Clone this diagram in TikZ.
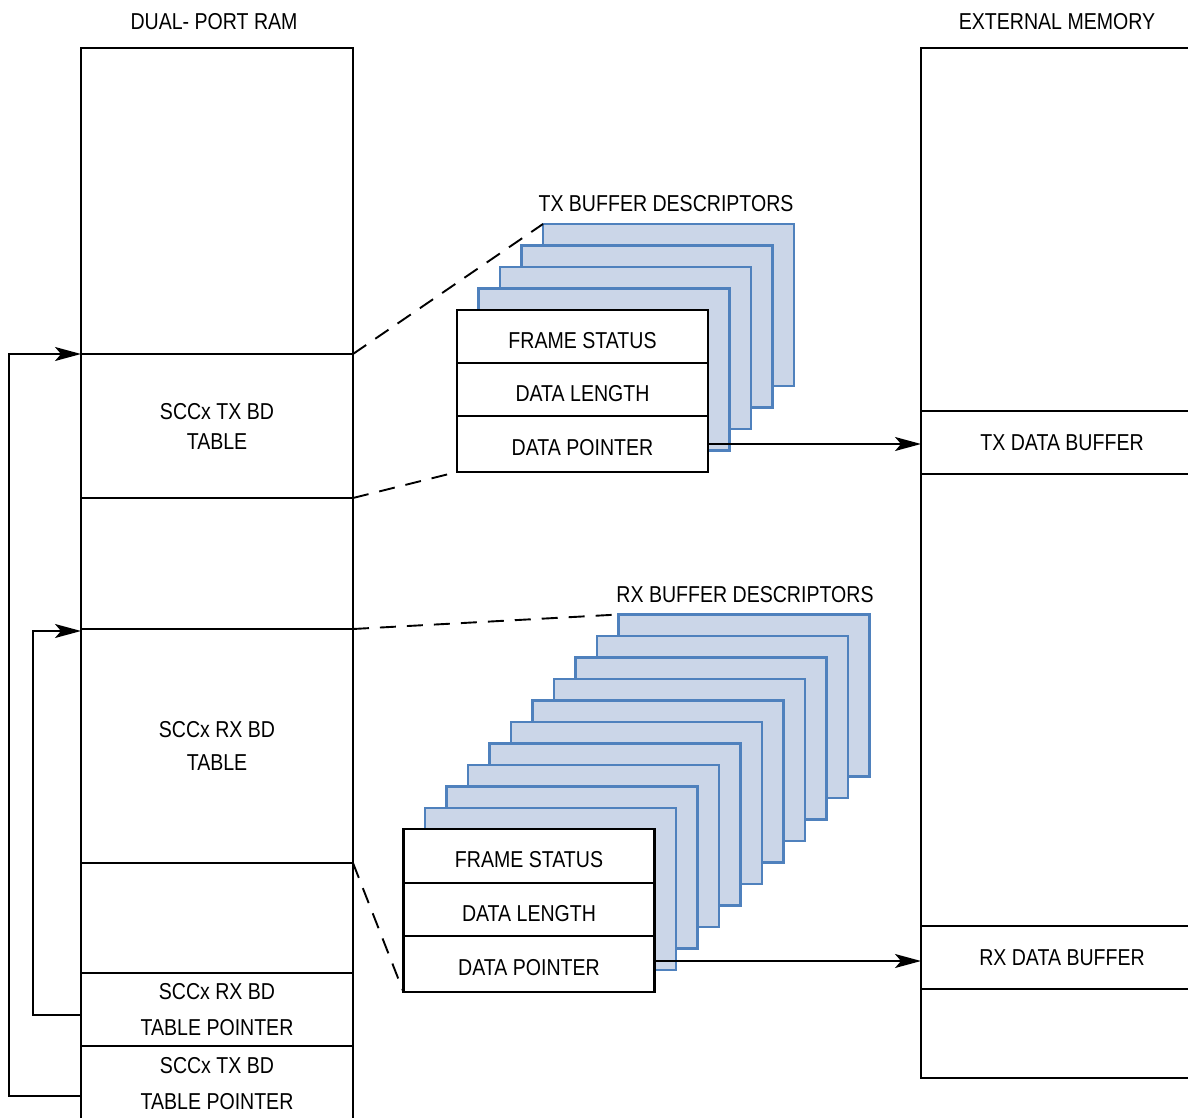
\documentclass[tikz,border=0pt]{standalone}
\usepackage{fontspec}
\setmainfont{Liberation Sans}[FakeStretch=0.85]
\usetikzlibrary{arrows.meta}
\definecolor{bdfill}{RGB}{203,214,232}
\definecolor{bdline}{RGB}{79,129,189}
\begin{document}
\begin{tikzpicture}[x=1pt, y=-1pt, font=\fontsize{23}{28}\selectfont,
		>={Stealth[length=26pt, width=14pt, inset=6pt]},
		cell/.style={draw, line width=2.9pt, minimum width=272pt, inner sep=0pt, outer sep=0pt, align=center},
		emcell/.style={cell, minimum width=282pt},
		bdbox/.style={draw=bdline, fill=bdfill, line width=2.2pt, minimum width=251pt, minimum height=162pt, inner sep=0pt, outer sep=0pt},
		bdrow/.style={draw, fill=white, line width=2.9pt, minimum width=251pt, inner sep=0pt, outer sep=0pt, text height=23pt, text depth=0pt},
		conn/.style={line width=1.6pt},
		guide/.style={line width=1.9pt, dash pattern=on 16pt off 11pt}]
	\useasboundingbox (0,0) rectangle (1188,1118);
	\clip (0,0) rectangle (1188,1118);
	% dual-port RAM
	\node (ramtitle) at (214,22) {DUAL- PORT RAM};
	\node[cell, minimum height=306pt] (ramtop) at (217,201) {};
	\node[cell, minimum height=144pt] (txtab) at (217,426) {SCCx TX BD\\[2pt]TABLE};
	\node[cell, minimum height=131pt] (gapa) at (217,563.5) {};
	\node[cell, minimum height=234pt] (rxtab) at (217,746) {SCCx RX BD\\[5pt]TABLE};
	\node[cell, minimum height=110pt] (gapb) at (217,918) {};
	\node[cell, minimum height=73pt] (rxptr) at (217,1009.5) {SCCx RX BD\\[8pt]TABLE POINTER};
	\node[cell, minimum height=76pt] (txptr) at (217,1084) {SCCx TX BD\\[8pt]TABLE POINTER};
	% external memory
	\node (emtitle) at (1057,22) {EXTERNAL MEMORY};
	\node[emcell, minimum height=363pt] (emtop) at (1062,229.5) {};
	\node[emcell, minimum height=63pt] (txbuf) at (1062,442.5) {TX DATA BUFFER};
	\node[emcell, minimum height=452pt] (emmid) at (1062,700) {};
	\node[emcell, minimum height=63pt] (rxbuf) at (1062,957.5) {RX DATA BUFFER};
	\node[emcell, minimum height=89pt] (embot) at (1062,1033.5) {};
	% TX buffer descriptors
	\node (txlabel) at (666,204) {TX BUFFER DESCRIPTORS};
	\foreach \i in {4,3,2,1}
		\node[bdbox] (txbd\i) at ({582.5+21.5*\i},{391-21.5*\i}) {};
	\node[bdrow, minimum height=53pt] (txfs) at (582.5,336.5) {FRAME STATUS};
	\node[bdrow, minimum height=53pt] (txdl) at (582.5,389.5) {DATA LENGTH};
	\node[bdrow, minimum height=56pt] (txdp) at (582.5,444) {DATA POINTER};
	% RX buffer descriptors
	\node (rxlabel) at (745,595) {RX BUFFER DESCRIPTORS};
	\foreach \i in {10,9,...,1}
		\node[bdbox] (rxbd\i) at ({529+21.5*\i},{910.5-21.5*\i}) {};
	\node[bdrow, minimum height=54pt] (rxfs) at (529,856) {FRAME STATUS};
	\node[bdrow, minimum height=53pt] (rxdl) at (529,909.5) {DATA LENGTH};
	\node[bdrow, minimum height=56pt] (rxdp) at (529,964) {DATA POINTER};
	% pointers to data buffers
	\draw[conn, ->] (txdp.east) -- (txdp.east -| txbuf.west);
	\draw[conn, ->] ([yshift=3pt]rxdp.east) -- ([yshift=3pt]rxdp.east -| rxbuf.west);
	% table pointers
	\draw[conn, ->] ([yshift=-12pt]txptr.west) -- ++(-72,0) |- (ramtop.south west);
	\draw[conn, ->] ([yshift=-5.5pt]rxptr.west) -- ++(-48,0) |- ([yshift=-2pt]rxtab.north west);
	% table to descriptors
	\draw[guide] (txtab.north east) -- (txbd4.north west);
	\draw[guide] (txtab.south east) -- (txdp.south west);
	\draw[guide] (rxtab.north east) -- (rxbd10.north west);
	\draw[guide] (rxtab.south east) -- (rxdp.south west);
\end{tikzpicture}
\end{document}
